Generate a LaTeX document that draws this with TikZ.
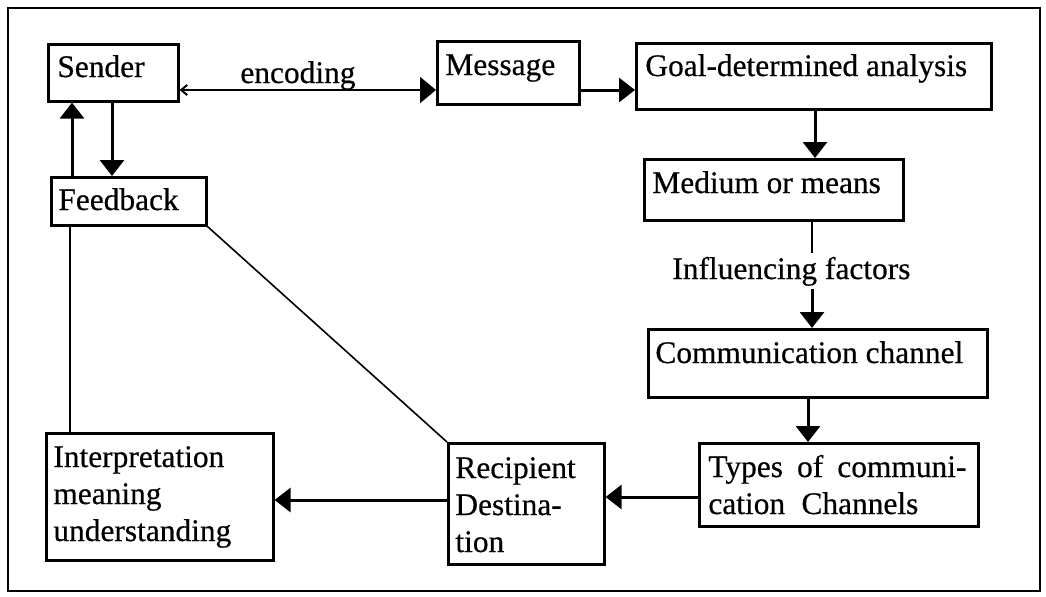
\documentclass[tikz,border=0pt]{standalone}
\usepackage{fontspec}
\setmainfont{Liberation Serif}
\newfontfamily\scanfont[FakeBold=0.5]{Liberation Serif}
\usetikzlibrary{arrows.meta,calc}
\begin{document}
\begin{tikzpicture}[x=0.5pt,y=-0.5pt,
  box/.style={draw, line width=1.3pt, inner sep=0pt, anchor=north west},
  lbl/.style={inner sep=0pt, anchor=base west, font=\scanfont\fontsize{15.7}{18.5}\selectfont},
  mlbl/.style={lbl, align=left},
  arr/.style={line width=1.5pt, -{Triangle[length=8pt,width=12pt]}},
  encarr/.style={line width=1pt, {Straight Barb[length=3pt,width=5pt]}-{Triangle[length=8pt,width=13pt]}},
  thinline/.style={line width=0.8pt},
  frame/.style={line width=1pt}
]
\useasboundingbox (0,0) rectangle (1046,596);
\draw[frame] (8,8) rectangle (1040,591);

% boxes
\node[box, minimum width=65pt,   minimum height=28.5pt] (sender)   at (47,43)  {};
\node[box, minimum width=77.5pt, minimum height=24pt]   (feedback) at (50,176) {};
\node[box, minimum width=71pt,   minimum height=31.5pt] (message)  at (436,40) {};
\node[box, minimum width=177.5pt,minimum height=33pt]   (goal)     at (635,42) {};
\node[box, minimum width=129.5pt,minimum height=30.5pt] (medium)   at (643,158) {};
\node[box, minimum width=169.5pt,minimum height=34pt]   (comm)     at (647,328) {};
\node[box, minimum width=139.5pt,minimum height=41.5pt] (types)    at (698,442) {};
\node[box, minimum width=78pt,   minimum height=60.5pt] (recip)    at (447,442) {};
\node[box, minimum width=113.5pt,minimum height=63.5pt] (interp)   at (45,432) {};

% texts
\node[lbl] (senderT)   at (57,77)   {Sender};
\node[lbl] (encT)      at (240,83)  {encoding};
\node[lbl] (messageT)  at (445,75)  {Message};
\node[lbl] (goalT)     at (645,76)  {Goal-determined analysis};
\node[lbl] (mediumT)   at (652,193) {Medium or means};
\node[lbl] (feedbackT) at (58,210)  {Feedback};
\node[lbl, inner sep=1.5pt] (infl) at (669,279) {Influencing factors};
\node[lbl] (commT)     at (655,363) {Communication channel};
\node[mlbl, text width=138pt] (typesT) at (708,477)
  {Types\hspace{0.45em}of\hspace{0.45em}communi-\\cation\hspace{0.52em}Channels};
\node[mlbl, text width=75pt] (recipT) at (455,478) {Recipient\\Destina-\\tion};
\node[mlbl, text width=110pt] (interpT) at (53,467) {Interpretation\\meaning\\understanding};

% helper coordinates
\coordinate (xup) at (72,0);
\coordinate (xdn) at (112,0);
\coordinate (xil) at (70,0);
\coordinate (yenc) at (0,90);
\coordinate (ymg) at (0,90);
\coordinate (xgm) at (815,0);
\coordinate (xmi) at (812,0);
\coordinate (xct) at (808,0);
\coordinate (ytr) at (0,497);
\coordinate (yri) at (0,500);

% connectors
\draw[arr] (feedback.north -| xup) -- (sender.south -| xup);
\draw[arr] (sender.south -| xdn) -- (feedback.north -| xdn);
\draw[encarr] (sender.east |- yenc) -- (message.west |- yenc);
\draw[arr] (message.east |- ymg) -- (goal.west |- ymg);
\draw[arr] (goal.south -| xgm) -- (medium.north -| xgm);
\draw[thinline] (medium.south -| xmi) -- (infl.north -| xmi);
\draw[arr] (infl.south -| xmi) -- (comm.north -| xmi);
\draw[arr] (comm.south -| xct) -- (types.north -| xct);
\draw[arr] (types.west |- ytr) -- (recip.east |- ytr);
\draw[arr] (recip.west |- yri) -- (interp.east |- yri);
\draw[thinline] (interp.north -| xil) -- (feedback.south -| xil);
\draw[thinline] (feedback.south east) -- (recip.north west);
\end{tikzpicture}
\end{document}
